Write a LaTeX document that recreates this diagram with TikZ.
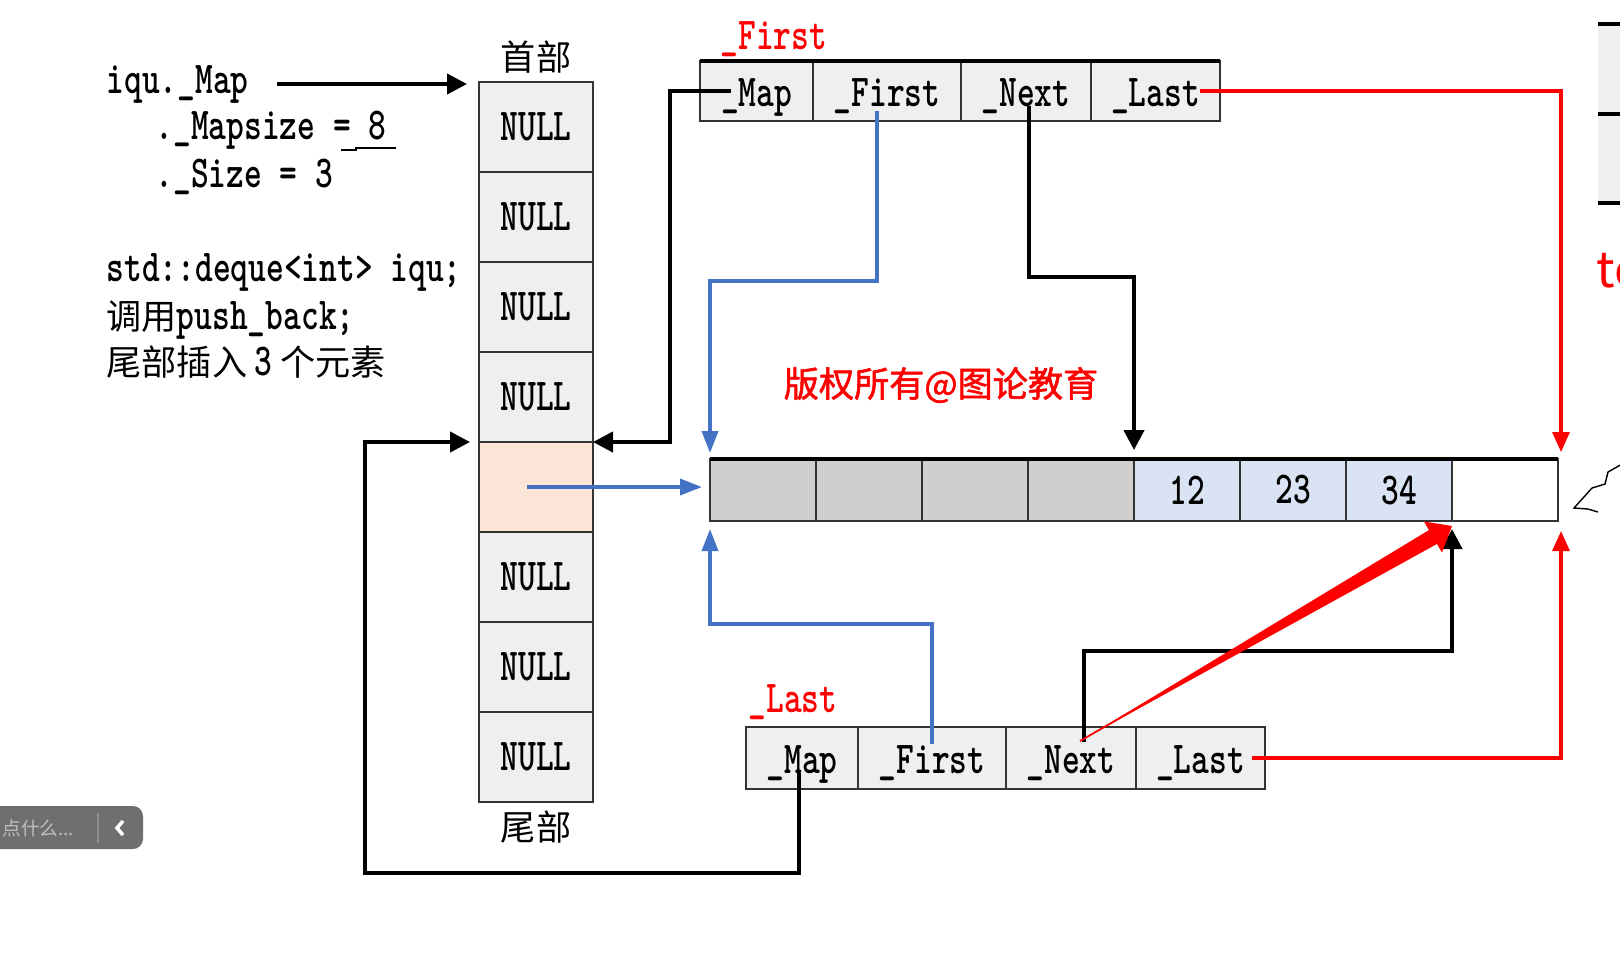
\documentclass[tikz,border=0pt]{standalone}
\usepackage{fontspec}
\newfontfamily\labfont[FakeStretch=0.74]{lmmonolt10-bold.otf}
\newfontfamily\cjk{Noto Sans CJK SC}
\newfontfamily\cjkbold[FakeBold=1.6]{Noto Sans CJK SC}
\newcommand{\labtext}{\labfont\fontsize{13pt}{15pt}\selectfont}
\newcommand{\cjktext}{\cjk\fontsize{10pt}{12pt}\selectfont}
\usepackage{tikz}
\usetikzlibrary{positioning, arrows.meta, calc}
\definecolor{nullfill}{HTML}{EFEFEF}
\definecolor{curfill}{HTML}{FBE5D6}
\definecolor{usedfill}{HTML}{D0CECE}
\definecolor{elemfill}{HTML}{DAE3F3}
\definecolor{arrowblue}{HTML}{4472C4}
\definecolor{widgetgray}{HTML}{6D706F}
\frenchspacing
\tikzset{
	>={Triangle[length=2mm,width=2mm]},
	lab/.style={font=\labtext, inner sep=0pt},
	cjklab/.style={font=\cjktext, inner sep=0pt},
	cell/.style={draw=black!80, line width=0.6pt, inner sep=0pt, outer sep=0pt, font=\labtext},
	mapcell/.style={cell, fill=nullfill, minimum width=1.14cm, minimum height=0.90cm},
	nul/.style={},
	cur/.style={fill=curfill},
	datacell/.style={cell, minimum width=1.06cm, minimum height=0.62cm},
	used/.style={fill=usedfill},
	elem/.style={fill=elemfill},
	spare/.style={fill=white},
	field/.style={cell, fill=nullfill, minimum height=0.60cm, text height=9pt, text depth=0pt},
	ptr/.style={->, line width=1.2pt},
	blueptr/.style={->, line width=1pt, arrowblue, >={Triangle[length=2.2mm,width=1.6mm]}},
	redptr/.style={->, line width=0.9pt, red, >={Triangle[length=2mm,width=1.7mm]}},
	redlab/.style={lab, text=red},
}

\begin{document}
\begin{tikzpicture}[y=-1cm]
	\useasboundingbox (0,0) rectangle (16.2,9.6);
	\node[mapcell] (m1) at (5.36,1.27) {NULL};
	\foreach \i/\j/\s/\t in {1/2/nul/NULL,2/3/nul/NULL,3/4/nul/NULL,4/5/cur/,5/6/nul/NULL,6/7/nul/NULL,7/8/nul/NULL}
		\node[mapcell, \s, below=0pt of m\i] (m\j) {\t};
	\node[cjklab, above=0.8mm of m1] (head) {首部};
	\node[cjklab, below=0.8mm of m8] (tail) {尾部};
	
	\node[lab, anchor=west] (iqumap) at (1.06,0.84) {iqu.\_Map};
	\node[lab, anchor=west] (mapsize) at (1.55,1.30) {.\_Mapsize = 8};
	\node[lab, anchor=west] (size) at (1.55,1.77) {.\_Size = 3};
	\node[lab, anchor=west] (decl) at (1.06,2.72) {std::deque<int> iqu;};
	\node[lab, anchor=west] (call) at (1.06,3.20) {{\cjktext 调用}push\_back;};
	\node[lab, anchor=west] (push) at (1.06,3.62) {{\cjktext 尾部插入}\,3\,{\cjktext 个元素}};
	\draw[line width=0.4pt] (3.41,1.50) -- (3.56,1.50) -- (3.56,1.48) -- (3.96,1.48);
	
	\node[datacell, used] (d1) at (7.63,4.90) {};
	\foreach \i/\j/\s/\t in {1/2/used/,2/3/used/,3/4/used/,4/5/elem/12,5/6/elem/23,6/7/elem/34,7/8/spare/}
		\node[datacell, \s, right=0pt of d\i] (d\j) {\t};
	\draw[line width=1pt] (d1.north west) -- (d8.north east);
	
	\node[field, minimum width=1.13cm] (tmap) at (7.565,0.91) {\_Map};
	\node[field, minimum width=1.48cm, right=0pt of tmap] (tfirst) {\_First};
	\node[field, minimum width=1.30cm, right=0pt of tfirst] (tnext) {\_Next};
	\node[field, minimum width=1.29cm, right=0pt of tnext] (tlast) {\_Last};
	\draw[line width=1pt] (tmap.north west) -- (tlast.north east);
	\node[redlab, anchor=south west] (lfirst) at ([xshift=2mm,yshift=0.4mm]tmap.north west) {\_First};
	
	\node[field, minimum height=0.62cm, minimum width=1.12cm] (bmap) at (8.02,7.58) {\_Map};
	\node[field, minimum height=0.62cm, minimum width=1.48cm, right=0pt of bmap] (bfirst) {\_First};
	\node[field, minimum height=0.62cm, minimum width=1.30cm, right=0pt of bfirst] (bnext) {\_Next};
	\node[field, minimum height=0.62cm, minimum width=1.29cm, right=0pt of bnext] (blast) {\_Last};
	\node[redlab, anchor=south west] (llast) at ([xshift=0.2mm,yshift=0.7mm]bmap.north west) {\_Last};
	
	\node[font=\cjkbold\fontsize{10pt}{12pt}\selectfont, text=red] (mark) at (9.41,3.85) {版权所有@图论教育};
	
	\draw[ptr] ([xshift=2.8mm]iqumap.east) -- ([xshift=-1.2mm]iqumap.east -| m1.west);
	\draw[ptr] ([xshift=3.1mm]tmap.west) -- ++(-0.61,0) |- (m5.north east);
	\draw[blueptr] ([xshift=-1mm,yshift=-2mm]tfirst.center) -- ++(0,1.7) -| ([yshift=0.6mm]d1.north west);
	\draw[ptr] ([xshift=0.3mm,yshift=-1.5mm]tnext.center) -- ++(0,1.71) -| ([yshift=0.9mm]d4.north east);
	\draw[redptr] ([xshift=-2mm]tlast.east) -| ([xshift=0.3mm,yshift=0.7mm]d8.north east);
	\draw[blueptr] ([xshift=-0.9mm]m5.center) -- ([xshift=-0.8mm]m5.center -| d1.west);
	\draw[blueptr] ([yshift=1.4mm]bfirst.center) -- ++(0,-1.2) -| ([yshift=-0.8mm]d1.south west);
	\coordinate (back) at (3.65,8.73);
	\draw[ptr] ([xshift=-0.3mm,yshift=-1.5mm]bmap.center) |- (back) |- ([xshift=-0.9mm]m5.north west);
	\draw[ptr] ([xshift=1.3mm,yshift=1.6mm]bnext.center) -- ++(0,-0.91) -| ([yshift=-0.8mm]d7.south east);
	\draw[redptr] ([xshift=-1.3mm]blast.east) -| ([xshift=0.3mm,yshift=-1mm]d8.south east);
	\coordinate (rs) at ([xshift=0.9mm,yshift=1.7mm]bnext.center);
	\coordinate (rt) at ([yshift=-0.5mm]d7.south east);
	\coordinate (rh) at ($(rt)!0.22cm!(rs)$);
	\draw[red, line width=0.5pt] (rs) -- (rh);
	\fill[red] (rs) -- ($(rh)!0.08cm!90:(rt)$) -- ($(rh)!0.18cm!90:(rt)$) -- (rt) -- ($(rh)!0.18cm!-90:(rt)$) -- ($(rh)!0.08cm!-90:(rt)$) -- cycle;
	
	\fill[widgetgray, rounded corners=1mm] (-0.2,8.06) rectangle (1.43,8.49);
	\node[anchor=west, text=black!25, font=\cjk\fontsize{5.3pt}{7pt}\selectfont, inner sep=0pt] (hint) at (0.02,8.28) {点什么...};
	\draw[black!45, line width=0.5pt] (0.98,8.13) -- (0.98,8.43);
	\draw[white, line width=1pt] (1.23,8.21) -- (1.17,8.28) -- (1.23,8.35);
	
	\fill[nullfill] (15.98,0.24) rectangle (16.3,2.03);
	\draw[line width=1pt] (15.98,0.24) -- (16.3,0.24) (15.98,1.14) -- (16.3,1.14) (15.98,2.03) -- (16.3,2.03);
	\node[anchor=west, text=red, font=\cjk\fontsize{14pt}{16pt}\selectfont, inner sep=0pt] (cut) at (15.96,2.71) {to};
	\draw[line width=0.4pt] (16.22,4.64) -- (16.08,4.72) -- (16.05,4.84) -- (15.92,4.88) -- (15.74,5.08) -- (15.88,5.09) -- (15.98,5.12);
\end{tikzpicture}
\end{document}
